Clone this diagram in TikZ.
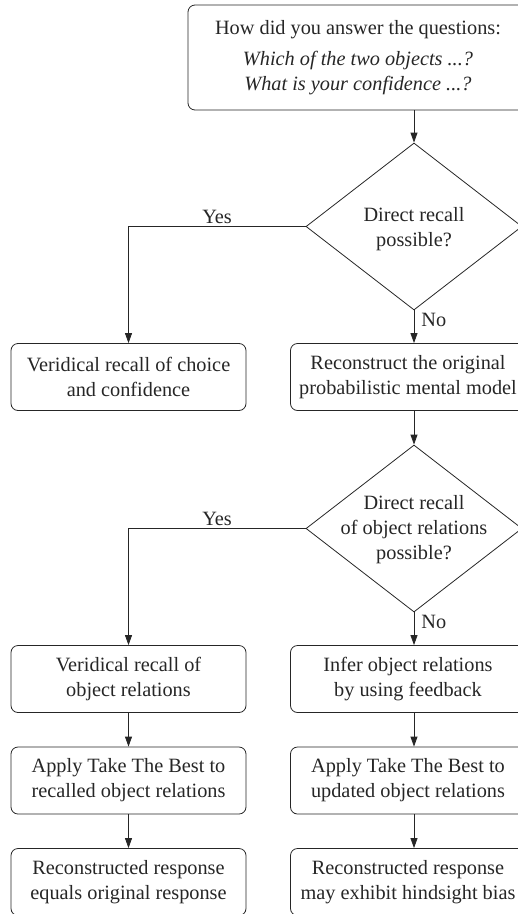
\documentclass[tikz,border=0pt]{standalone}
\usepackage{fontspec}
\setmainfont{Liberation Serif}
\usetikzlibrary{shapes.geometric, arrows.meta}
\begin{document}
\begin{tikzpicture}[x=1bp, y=-1bp,
  every node/.style={font=\fontsize{20.3bp}{25bp}\selectfont, text=black!85},
  box/.style={draw=black!85, line width=0.8bp, rounded corners=7bp, minimum width=235bp, minimum height=67bp, align=center, inner sep=0pt},
  topbox/.style={box, minimum width=340bp, minimum height=105bp},
  decision/.style={draw=black!85, line width=0.8bp, diamond, minimum width=216bp, minimum height=167bp, inner sep=0pt},
  dtext/.style={align=center, inner sep=0pt},
  arr/.style={draw=black!85, line width=0.8bp, -{Triangle[length=10bp, width=7bp]}},
  lab/.style={inner sep=2bp}
]
\useasboundingbox (0,0) rectangle (518,914);
\clip (0,0) rectangle (518,914);

\node[topbox] (top) at (358,57.5) {How did you answer the questions:\\[6bp]\textit{Which of the two objects ...?}\\\textit{What is your confidence ...?}};

\node[decision] (d1) at (414,226.5) {};
\node[dtext] (d1t) at (414,229) {Direct recall\\possible?};

\node[box] (l2) at (128.5,377) {Veridical recall of choice\\and confidence};
\node[box] (r2) at (408,377) {Reconstruct the original\\probabilistic mental model};

\node[decision] (d2) at (414,528.5) {};
\node[dtext] (d2t) at (414,530) {Direct recall\\of object relations\\possible?};

\node[box] (l3) at (128.5,679) {Veridical recall of\\object relations};
\node[box] (r3) at (408,679) {Infer object relations\\by using feedback};
\node[box] (l4) at (128.5,780.5) {Apply Take The Best to\\recalled object relations};
\node[box] (r4) at (408,780.5) {Apply Take The Best to\\updated object relations};
\node[box] (l5) at (128.5,882) {Reconstructed response\\equals original response};
\node[box] (r5) at (408,882) {Reconstructed response\\may exhibit hindsight bias};

\draw[arr] (top.south -| d1.north) -- (d1.north);
\draw[arr] (d1.west) -| (l2.north) node[lab, pos=0.25, above] {Yes};
\draw[arr] (d1.south) -- (d1.south |- r2.north) node[lab, pos=0.3, right, xshift=5bp] {No};
\draw[arr] (r2.south -| d2.north) -- (d2.north);
\draw[arr] (d2.west) -| (l3.north) node[lab, pos=0.25, above] {Yes};
\draw[arr] (d2.south) -- (d2.south |- r3.north) node[lab, pos=0.3, right, xshift=5bp] {No};
\draw[arr] (l3.south) -- (l4.north);
\draw[arr] (l4.south) -- (l5.north);
\draw[arr] (r3.south -| d2.south) -- (r4.north -| d2.south);
\draw[arr] (r4.south -| d2.south) -- (r5.north -| d2.south);
\end{tikzpicture}
\end{document}
